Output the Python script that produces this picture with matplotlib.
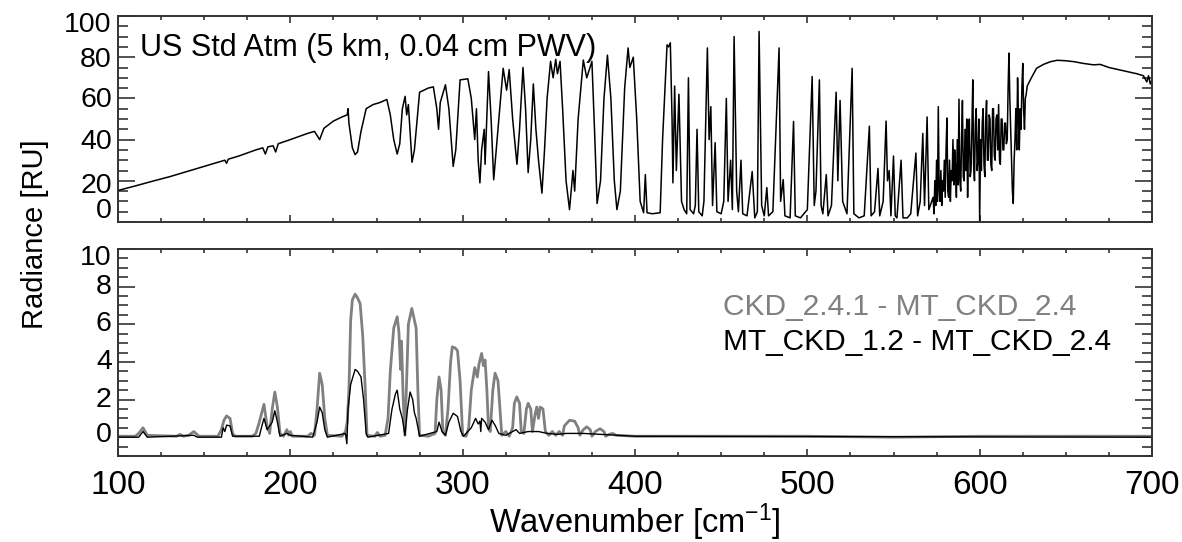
import matplotlib
matplotlib.use("Agg")
import matplotlib.pyplot as plt
from matplotlib.ticker import MultipleLocator
import matplotlib.transforms as mtrans

plt.rcParams['font.family'] = ['Liberation Sans', 'DejaVu Sans']
plt.rcParams['mathtext.fontset'] = 'custom'
plt.rcParams['mathtext.rm'] = 'Liberation Sans'
plt.rcParams['mathtext.it'] = 'Liberation Sans'

# ---------------- data: top panel (radiance spectrum) ----------------
top_wn = [100, 110, 120, 130, 140, 150, 160, 162, 163, 164, 170, 180, 184, 185.5, 187, 190, 191.5, 193,
          200, 210, 214, 217, 219.5, 225, 230, 233, 233.5, 234, 236, 237.6, 239, 241, 244, 248, 252, 256,
          258, 260, 262, 263.5, 265, 266.6, 267.5, 268.5, 270.6, 272, 275, 280, 283, 285, 286, 287, 290,
          292, 294.5, 296, 298.5, 303, 305, 307, 308, 309, 310, 311, 312.5, 313, 315, 316.5, 318, 320,
          323.5, 325.5, 327, 329, 331.5, 333, 335, 336.5, 338, 339.5, 341, 342.5, 344, 346, 347.5, 349,
          351, 352.5, 354, 355, 356.5, 358, 360, 362, 364, 365, 367, 370, 372, 375, 376.5, 378, 380, 382,
          384, 386, 388, 389.5, 391.5, 394, 396, 397, 399, 401, 403, 405, 406, 407, 410, 414.6, 416,
          418.6, 419.5, 420.5, 421.5, 422, 423, 424, 425.5, 427, 428.5, 430, 431, 432, 434, 435, 436, 437,
          439, 440, 442, 443, 444, 445, 446.5, 447.5, 450, 451.5, 453, 454, 455.5, 456.5, 457.5, 459, 460,
          461.5, 462.5, 465, 468, 469.5, 471, 472, 473.5, 475, 476.5, 477.5, 480, 483.6, 484.5, 486, 487,
          490, 492, 493, 496, 500, 502.8, 504, 505, 507, 508, 509, 511, 512, 514, 516.7, 517.7, 519, 520.5,
          523, 526, 527, 530, 533, 536, 537, 539, 541, 542, 544, 545.7, 546.5, 547.5, 548.5, 550, 551, 552,
          554.4, 555.5, 558, 560, 563, 564, 565.5, 567, 568, 569.5, 570.5,
          573, 573.5, 574, 574.5, 575, 575.5, 576, 576.5, 577, 577.5,
          578, 578.5, 579, 579.5, 580, 580.5, 581, 581.5, 582, 582.5,
          583, 583.5, 584, 584.5, 585, 585.5, 586, 586.5, 587, 587.5,
          588, 588.5, 589, 589.5, 590, 590.5, 591, 591.5, 592, 592.5,
          593, 593.5, 594, 594.5, 595, 595.5, 596, 596.5, 597, 597.5,
          598, 598.5, 599, 599.5, 600, 600.5, 601, 601.5, 602, 602.5,
          603, 603.5, 604, 604.5, 605, 605.5, 606, 606.5, 607, 607.5,
          608, 608.5, 609, 609.5, 610, 610.5, 611, 611.5, 612, 612.5,
          613, 613.5, 614, 614.5, 615, 615.5, 616, 616.5, 617, 617.5,
          618, 618.5, 619, 619.5, 620, 620.5, 621, 621.5, 622, 622.5,
          623, 623.5, 624, 624.5, 625, 625.5, 626, 626.5, 627, 627.6,
          630, 633, 637, 641, 645, 649.6, 655, 660, 666, 670, 675, 681.5, 686, 691, 695, 697, 698, 699, 700]
top_rad = [15.3, 17.5, 19.8, 22, 24.5, 27, 29.5, 30, 28.5, 30.5, 32, 35, 36, 33, 36.5, 37, 34, 38,
           40, 43, 44, 40, 45.5, 49, 51, 52, 55, 48, 36, 32.7, 34, 44, 55, 57, 58, 59.5,
           52, 40, 33, 38, 55, 61, 52, 57, 29, 35, 63, 65, 65.6, 55, 45, 58, 66.6,
           55, 27, 35, 69, 69.5, 60, 40, 55, 30, 19, 35, 45, 28, 73, 50, 20.5, 40,
           74.6, 64, 74, 50, 28, 45, 75, 55, 24, 40, 67, 45, 30, 14, 35, 60,
           78, 70, 79, 72, 78, 55, 20, 6, 25, 15, 50, 78.6, 70, 78, 45, 9, 20, 60,
           81, 60, 20, 6, 15, 65, 84.5, 75, 80, 50, 10, 4.5, 23, 4.5, 4, 4.5, 40,
           86, 85, 87, 50, 19, 66, 25, 62, 10, 6, 4, 70, 6, 4, 8, 45, 5,
           3, 10, 84.5, 40, 56, 8, 38.5, 5, 4, 10, 60, 10, 30, 6, 90, 15, 5,
           30, 4, 3, 24.5, 2, 5, 92.5, 8, 3, 16.7, 3, 5, 84.5, 10, 20.6, 3,
           2, 48.8, 3, 2, 6, 70.6, 8, 15, 69, 8, 4, 23, 3, 8, 63, 20, 59, 10,
           4, 74.6, 4, 2, 3, 46.5, 3, 5, 26, 3, 10, 49, 20, 25, 3, 32, 3, 2,
           30, 2, 2, 4, 33.5, 3, 10, 43, 8, 51, 6,
           12, 4, 20, 8, 30, 10, 56, 15, 10, 25,
           8, 20, 15, 30, 12, 35, 50.5, 15, 12, 30,
           10, 25, 20, 40, 18, 35, 26, 12, 40, 18,
           59.6, 20, 15, 40, 59, 22, 20, 45, 25, 50,
           12, 38, 50, 22, 25, 45, 69, 28, 20, 48,
           55, 25, 30, 50, 0, 40, 25, 48, 55, 28,
           22, 50, 59, 30, 30, 52, 50, 28, 25, 55,
           55, 32, 30, 50, 52, 35, 57, 30, 28, 50,
           50, 35, 35, 48, 48, 38, 40, 65, 82, 60,
           45, 30, 15, 9, 30, 40, 55, 35, 70, 50,
           35, 55, 45, 65, 77, 55, 45, 60, 62, 66,
           70, 74.6, 76.5, 77.8, 78.5, 78.3, 77.8, 77, 76.3, 76.5, 75, 73.8, 73, 72, 71, 68, 71, 67, 69]

top_ytick_labels = ['100', '80', '60', '40', '20', '0']
top_ytick_label_pos = [95.6, 78.7, 59.4, 38.6, 17.7, 5.4]

# ---------------- data: bottom panel (differences) ----------------
gray_wn = [100, 110, 112, 114.5, 117, 134, 136, 138, 141, 144, 147, 158, 160, 161.5, 163, 165, 166.5, 168,
           178, 180, 182, 184.7, 186.5, 188, 189.5, 191, 192.5, 194, 196, 198, 199, 200, 201, 210, 212,
           214, 215.5, 217, 218.5, 220, 221.5, 230, 232, 233, 234, 235, 236, 237.6, 239, 240.5, 242,
           243.5, 244.5, 249, 250.5, 252, 255, 256.7, 258, 260, 262, 263, 264, 264.5, 265.5, 266.5,
           267.5, 268.5, 270.5, 272, 273, 274, 275, 280, 284, 285, 286.3, 287.5, 288.5, 290, 291.5, 293,
           294, 295.5, 297, 298.5, 300, 302, 303.5, 305, 307, 308.5, 309.5, 311, 312, 313, 314, 315, 316,
           317.5, 318.8, 320.5, 322, 322.7, 325, 327, 329, 330, 331.4, 333, 334, 335.5, 337, 338, 339.5,
           340.5, 342, 343, 344, 345, 346.6, 348, 350, 352, 354, 356, 358, 359, 362, 365, 367, 368, 370,
           372, 374, 375, 377, 379.7, 382, 383, 385, 387, 389, 400, 450, 500, 550, 600, 650, 700]
gray_val = [0.05, 0.05, 0.2, 0.5, 0.1, 0.05, 0.15, 0.05, 0.1, 0.3, 0.05, 0.05, 0.4, 0.9, 1.13, 1.0, 0.2, 0.05,
            0.05, 0.2, 0.8, 1.75, 0.6, 0.2, 1.5, 2.4, 1.6, 0.2, 0.05, 0.4, 0.1, 0.3, 0.05, 0.05, 0.2,
            0.1, 1.5, 3.4, 2.8, 1.0, 0.1, 0.05, 0.3, 0.8, 2.5, 6.2, 7.3, 7.6, 7.4, 7.1, 5.4,
            2.5, 0.1, 0.05, 0.25, 0.05, 0.1, 1.0, 3.5, 5.8, 6.4, 5.6, 3.6, 5.1, 2.0, 0.1,
            3.0, 6.0, 6.84, 6.2, 5.8, 2.5, 0.1, 0.05, 0.2, 2.0, 3.2, 2.5, 0.3, 0.1, 1.5, 4.0,
            4.8, 4.75, 4.6, 3.0, 0.1, 0.05, 0.5, 2.5, 3.7, 3.2, 3.9, 4.45, 3.8, 4.1, 2.6, 0.5, 0.3,
            2.5, 3.4, 3.0, 1.0, 0.1, 0.3, 0.05, 0.5, 1.8, 2.14, 1.8, 0.3, 0.2, 1.5, 1.8, 1.5,
            0.3, 1.2, 1.6, 1.0, 1.6, 1.5, 0.3, 0.1, 0.3, 0.1, 0.3, 0.1, 0.6, 0.9, 0.85, 0.5, 0.1, 0.4,
            0.55, 0.4, 0.05, 0.3, 0.45, 0.3, 0.05, 0.15, 0.2, 0.1, 0.05, 0.05, 0.05, 0.0, 0.05, 0.05, 0.05]

black_wn = [100, 112, 114.5, 117, 144, 146, 160, 161, 162, 163, 165, 166.5, 182, 183.5, 184.7, 186.5, 189.5,
            191, 192.5, 194, 198, 200, 213, 215.5, 217, 218.5, 220, 221.5, 232, 232.8, 233.5, 235, 237.6, 239,
            241, 242.5, 244, 245, 257, 259, 261, 262, 263.5, 265, 266.5, 268, 269.5, 271, 272, 273, 275,
            285, 286.3, 288, 290, 292, 294.5, 297, 299, 300.5, 305, 307.5, 309, 310, 310.5, 311, 313, 315,
            317, 319, 321, 325, 331, 333, 338, 344, 349, 355, 360, 370, 380, 390, 400, 700]
black_val = [0.0, 0.0, 0.3, 0.0, 0.1, 0.0, 0.0, 0.5, 0.3, 0.64, 0.6, 0.05, 0.05, 0.6, 1.0, 0.4, 0.8,
             1.4, 0.8, 0.05, 0.2, 0.1, 0.0, 0.8, 1.6, 1.3, 0.4, 0.0, 0.2, -0.35, 1.5, 2.8, 3.6, 3.5,
             3.2, 2.0, 0.2, 0.0, 0.2, 1.5, 2.3, 2.5, 1.5, 1.0, 0.1, 1.5, 2.4, 2.0, 1.3, 1.0, 0.05,
             0.3, 0.8, 0.3, 0.1, 0.8, 1.27, 1.1, 0.3, 0.05, 0.5, 1.0, 0.7, 0.85, 0.3, 1.0, 0.8, 0.4,
             0.9, 0.6, 0.2, 0.1, 0.4, 0.2, 0.3, 0.3, 0.2, 0.15, 0.2, 0.2, 0.15, 0.1, 0.05, 0.0]

bottom_ytick_labels = ['10', '8', '6', '4', '2', '0']
bottom_ytick_label_pos = [9.5, 8, 6, 4, 2, 0.1]

series_labels = ['CKD_2.4.1 - MT_CKD_2.4', 'MT_CKD_1.2 - MT_CKD_2.4']
xtick_vals = [100, 200, 300, 400, 500, 600, 700]

# ---------------- figure ----------------
W, H = 1182, 542
fig = plt.figure(figsize=(W / 100, H / 100), dpi=100)

def box(l, t, r, b):
    return [l / W, 1 - b / H, (r - l) / W, (b - t) / H]

ax1 = fig.add_axes(box(118, 16, 1152, 222))
ax2 = fig.add_axes(box(118, 249, 1152, 456))

frame_col = '#333333'
for ax in (ax1, ax2):
    for s in ax.spines.values():
        s.set_color(frame_col)
        s.set_linewidth(1.4)
    ax.set_xlim(100, 700)
    ax.xaxis.set_major_locator(MultipleLocator(100))
    ax.xaxis.set_minor_locator(MultipleLocator(25))
    ax.tick_params(axis='x', which='both', direction='in', top=True, bottom=True,
                   color=frame_col, width=1.2)
    ax.tick_params(axis='x', which='major', length=5)
    ax.tick_params(axis='x', which='minor', length=3)
    ax.tick_params(axis='y', which='both', direction='in', left=True, right=True,
                   color=frame_col, width=1.2, labelleft=False)
    ax.tick_params(axis='y', which='major', length=12)
    ax.tick_params(axis='y', which='minor', length=7)

ax1.plot(top_wn, top_rad, color='black', lw=1.1)
ax1.set_ylim(0, 100)
ax1.yaxis.set_major_locator(MultipleLocator(20))
ax1.yaxis.set_minor_locator(MultipleLocator(5))
ax1.tick_params(axis='x', labelbottom=False)
trans1 = mtrans.blended_transform_factory(ax1.transAxes, ax1.transData)
for lab, pos in zip(top_ytick_labels, top_ytick_label_pos):
    ax1.text(-0.006, pos, lab, transform=trans1, ha='right', va='center', fontsize=20.5)
ax1.text(0.021, 0.845, 'US Std Atm (5 km, 0.04 cm PWV)', transform=ax1.transAxes,
         ha='left', va='center', fontsize=22)

ax2.plot(gray_wn, gray_val, color='#808080', lw=2.0)
ax2.plot(black_wn, black_val, color='black', lw=1.0)
ax2.set_ylim(-1, 10)
ax2.yaxis.set_major_locator(MultipleLocator(2))
ax2.yaxis.set_minor_locator(MultipleLocator(0.5))
ax2.set_xticks(xtick_vals)
ax2.set_xticklabels([str(v) for v in xtick_vals])
ax2.tick_params(axis='x', labelsize=24, pad=10)
trans2 = mtrans.blended_transform_factory(ax2.transAxes, ax2.transData)
for lab, pos in zip(bottom_ytick_labels, bottom_ytick_label_pos):
    ax2.text(-0.006, pos, lab, transform=trans2, ha='right', va='center', fontsize=20.5)

ax2.text((723 - 118) / (1152 - 118), (456 - 307) / (456 - 249), series_labels[0],
         transform=ax2.transAxes, ha='left', va='center', fontsize=21.5, color='#808080')
ax2.text((723 - 118) / (1152 - 118), (456 - 342) / (456 - 249), series_labels[1],
         transform=ax2.transAxes, ha='left', va='center', fontsize=21.5, color='black')

fig.text(635 / W, 1 - 533 / H, 'Wavenumber [cm$^{-1}$]', ha='center', va='baseline', fontsize=23.5)
fig.text(35 / W, 1 - 234 / H, 'Radiance [RU]', ha='center', va='center', rotation=90, fontsize=21)

fig.savefig('out.png', dpi=100)
